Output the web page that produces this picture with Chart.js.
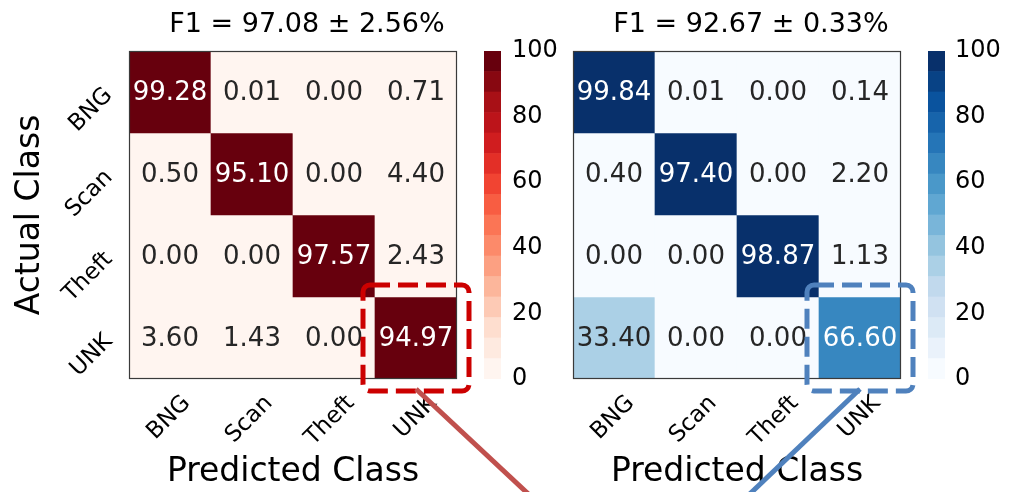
<!DOCTYPE html>
<html>
<head>
<meta charset="utf-8">
<script src="https://cdn.jsdelivr.net/npm/chart.js@4.4.1/dist/chart.umd.min.js"></script>
<style>
  html, body { margin: 0; padding: 0; background: #fff; }
  #page { position: relative; width: 1009px; height: 492px; overflow: hidden; background: #fff; }
  #page canvas { position: absolute; top: 0; }
</style>
</head>
<body>
<div id="page">
  <canvas id="redMatrix"  width="560" height="492" style="left:0"></canvas>
  <canvas id="blueMatrix" width="489" height="492" style="left:520px"></canvas>
  <canvas id="redBar"     width="100" height="492" style="left:470px"></canvas>
  <canvas id="blueBar"    width="95"  height="492" style="left:914px"></canvas>
</div>
<script>
(function () {
  "use strict";

  // ---- data ----
  const CLASSES    = ["BNG", "Scan", "Theft", "UNK"];
  const RED_TITLE  = "F1 = 97.08 ± 2.56%";
  const BLUE_TITLE = "F1 = 92.67 ± 0.33%";
  // rows = actual class, columns = predicted class
  const RED_ROWS = [
    [99.28,  0.01,  0.00,  0.71],
    [ 0.50, 95.10,  0.00,  4.40],
    [ 0.00,  0.00, 97.57,  2.43],
    [ 3.60,  1.43,  0.00, 94.97]
  ];
  const BLUE_ROWS = [
    [99.84,  0.01,  0.00,  0.14],
    [ 0.40, 97.40,  0.00,  2.20],
    [ 0.00,  0.00, 98.87,  1.13],
    [33.40,  0.00,  0.00, 66.60]
  ];
  const CBAR_TICKS = [0, 20, 40, 60, 80, 100];
  const LEVELS = 16;   // discrete colour steps in the colorbars

  const FONT = "'DejaVu Sans', sans-serif";
  Chart.defaults.font.family = FONT;
  Chart.defaults.color = "#000";

  // matplotlib Reds / Blues (ColorBrewer 9-class)
  const REDS  = ["#fff5f0", "#fee0d2", "#fcbba1", "#fc9272", "#fb6a4a", "#ef3b2c", "#cb181d", "#a50f15", "#67000d"];
  const BLUES = ["#f7fbff", "#deebf7", "#c6dbef", "#9ecae1", "#6baed6", "#4292c6", "#2171b5", "#08519c", "#08306b"];

  function hexRgb(h) {
    const n = parseInt(h.slice(1), 16);
    return [(n >> 16) & 255, (n >> 8) & 255, n & 255];
  }
  function cmap(stops, t) {
    const n = stops.length - 1;
    const p = Math.min(Math.max(t, 0), 1) * n;
    const i = Math.min(Math.floor(p), n - 1);
    const f = p - i;
    const a = hexRgb(stops[i]), b = hexRgb(stops[i + 1]);
    return a.map((v, k) => Math.round(v + (b[k] - v) * f));
  }
  function levelRgb(stops, v) {
    const k = Math.min(Math.floor(v / 100 * LEVELS), LEVELS - 1);
    return cmap(stops, k / (LEVELS - 1));
  }
  const css = c => `rgb(${c[0]},${c[1]},${c[2]})`;
  function isDark(c) {
    const lin = c.map(v => { v /= 255; return v <= 0.03928 ? v / 12.92 : Math.pow((v + 0.055) / 1.055, 2.4); });
    return 0.2126 * lin[0] + 0.7152 * lin[1] + 0.0722 * lin[2] < 0.408;
  }

  // cell values, frame, title, highlight box + connector
  const matrixDecor = {
    id: "matrixDecor",
    afterDatasetsDraw(chart, args, o) {
      const { ctx, chartArea: a, scales: { x, y } } = chart;
      ctx.save();
      ctx.font = `26px ${FONT}`;
      ctx.textAlign = "center";
      ctx.textBaseline = "middle";
      o.rows.forEach((row, r) => row.forEach((v, c) => {
        ctx.fillStyle = isDark(levelRgb(o.stops, v)) ? "#ffffff" : "#262626";
        ctx.fillText(v.toFixed(2), x.getPixelForValue(c), y.getPixelForValue(r) + 1);
      }));
      ctx.strokeStyle = "#3a3a3a";
      ctx.lineWidth = 1.2;
      ctx.strokeRect(a.left + 0.5, a.top + 0.5, a.width - 1, a.height - 1);
      ctx.fillStyle = "#000";
      ctx.font = `27px ${FONT}`;
      ctx.fillText(o.title, (a.left + a.right) / 2 + 14, a.top - 26);
      ctx.restore();
    },
    afterDraw(chart, args, o) {
      const { ctx, scales: { x, y } } = chart;
      const cx = x.getPixelForValue(3), cy = y.getPixelForValue(3);
      const half = (x.getPixelForValue(1) - x.getPixelForValue(0)) / 2 + 12;
      ctx.save();
      ctx.lineWidth = 5;
      ctx.strokeStyle = o.boxColor;
      ctx.setLineDash([20, 8]);
      ctx.beginPath();
      ctx.roundRect(cx - half, cy - half, half * 2, half * 2, 7);
      ctx.stroke();
      ctx.setLineDash([]);
      ctx.strokeStyle = o.lineColor;
      ctx.beginPath();
      ctx.moveTo(cx, cy + half - 2);
      ctx.lineTo(cx + o.slope * 140, cy + half - 2 + 140);
      ctx.stroke();
      ctx.restore();
    }
  };

  function matrixChart(id, rows, stops, cfg) {
    const datasets = rows.map((row, r) => ({
      data: row.map(() => [r - 0.5, r + 0.5]),
      backgroundColor: row.map(v => css(levelRgb(stops, v))),
      borderWidth: 0, grouped: false, barPercentage: 1, categoryPercentage: 1
    }));
    return new Chart(document.getElementById(id), {
      type: "bar",
      data: { labels: CLASSES, datasets },
      plugins: [matrixDecor],
      options: {
        responsive: false, animation: false, events: [],
        layout: { padding: { left: cfg.padLeft, right: cfg.padRight, top: 51, bottom: 0 } },
        plugins: {
          legend: { display: false }, tooltip: { enabled: false },
          matrixDecor: { rows, stops, title: cfg.title, boxColor: cfg.boxColor, lineColor: cfg.lineColor, slope: cfg.slope }
        },
        scales: {
          x: {
            type: "category", offset: true,
            grid: { display: false, drawTicks: false }, border: { display: false },
            ticks: { autoSkip: false, minRotation: 45, maxRotation: 45, labelOffset: 17, padding: 11, color: "#000", font: { size: 23 } },
            title: { display: true, text: "Predicted Class", color: "#000", font: { size: 33 }, padding: { top: 0, bottom: 0 } },
            afterFit: s => { s.height = 113; }
          },
          y: {
            type: "linear", min: -0.5, max: 3.5, reverse: true,
            display: cfg.showY,
            afterBuildTicks: s => { s.ticks = CLASSES.map((_, i) => ({ value: i })); },
            grid: { display: false, drawTicks: false }, border: { display: false },
            ticks: { autoSkip: false, minRotation: 45, maxRotation: 45, padding: 20, color: "#000", font: { size: 23 },
                     callback: v => CLASSES[v] },
            title: { display: true, text: "Actual Class", color: "#000", font: { size: 33 }, padding: { top: 11, bottom: 0 } },
            afterFit: s => { s.width = cfg.showY ? 129 : 0; }
          }
        }
      }
    });
  }

  function colorbarChart(id, stops, padLeft, axisWidth, tickPad) {
    const bands = [];
    for (let k = 0; k < LEVELS; k++) bands.push(k);
    return new Chart(document.getElementById(id), {
      type: "bar",
      data: {
        labels: [""],
        datasets: bands.map(k => ({
          data: [[k * 100 / LEVELS, (k + 1) * 100 / LEVELS]],
          backgroundColor: css(cmap(stops, k / (LEVELS - 1))),
          borderWidth: 0, grouped: false, barPercentage: 1, categoryPercentage: 1
        }))
      },
      options: {
        responsive: false, animation: false, events: [],
        layout: { padding: { left: padLeft, right: 0, top: 51, bottom: 113 } },
        plugins: { legend: { display: false }, tooltip: { enabled: false } },
        scales: {
          x: { display: false },
          y: {
            position: "right", min: 0, max: 100,
            afterBuildTicks: s => { s.ticks = CBAR_TICKS.map(v => ({ value: v })); },
            grid: { display: false, drawTicks: false }, border: { display: false },
            ticks: { padding: tickPad, color: "#000", font: { size: 24 } },
            afterFit: s => { s.width = axisWidth; }
          }
        }
      }
    });
  }

  matrixChart("redMatrix", RED_ROWS, REDS, {
    padLeft: 0, padRight: 103, showY: true, title: RED_TITLE,
    boxColor: "#cc0000", lineColor: "#c0504d", slope: 1.07
  });
  matrixChart("blueMatrix", BLUE_ROWS, BLUES, {
    padLeft: 53, padRight: 108, showY: false, title: BLUE_TITLE,
    boxColor: "#4f81bd", lineColor: "#4f81bd", slope: -1.05
  });
  colorbarChart("redBar", REDS, 14, 69, 11);
  colorbarChart("blueBar", BLUES, 14, 64, 10);
})();
</script>
</body>
</html>
